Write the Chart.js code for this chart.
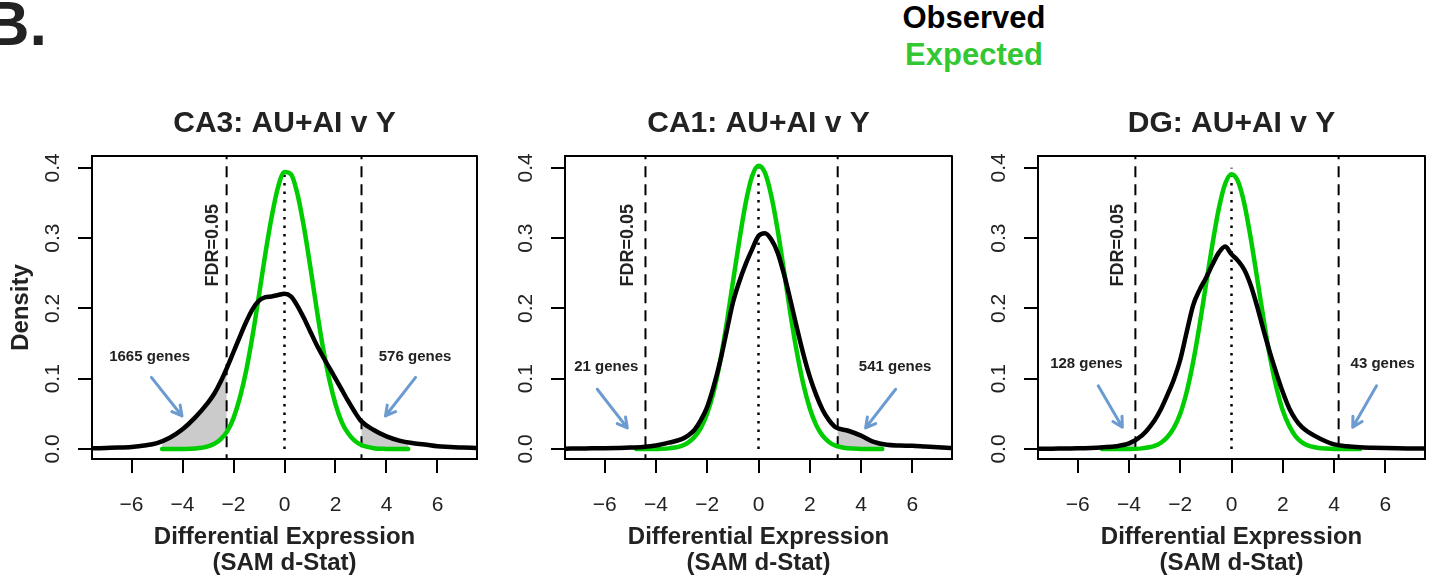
<!DOCTYPE html>
<html>
<head>
<meta charset="utf-8">
<script src="https://cdn.jsdelivr.net/npm/chart.js@4.4.0/dist/chart.umd.min.js"></script>
<style>
body{margin:0;background:#fff;width:1435px;height:581px;overflow:hidden;position:relative;font-family:'Liberation Sans',Arial,Helvetica,sans-serif;}
canvas{position:absolute;top:90px;}
.lab{position:absolute;font-weight:bold;white-space:nowrap;line-height:1;}
</style>
</head>
<body>
<div class="lab" style="left:-16px;top:-8px;font-size:63px;color:#222">B.</div>
<div class="lab" style="left:974px;top:2px;font-size:31px;color:#000;transform:translateX(-50%)">Observed</div>
<div class="lab" style="left:974px;top:39px;font-size:31px;color:#33c833;transform:translateX(-50%)">Expected</div>
<canvas id="c0" width="480" height="491" style="left:0px"></canvas>
<canvas id="c1" width="475" height="491" style="left:480px"></canvas>
<canvas id="c2" width="480" height="491" style="left:955px"></canvas>
<script>
// observed densities (black)
const obsX = [-7.5,-7,-6.5,-6,-5.5,-5,-4.5,-4,-3.5,
  -3,-2.75,-2.5,-2.25,-2,-1.75,-1.5,-1.25,-1,-0.75,-0.5,-0.25,0,0.25,0.5,0.75,1,1.25,1.5,1.75,2,2.25,2.5,2.75,3,
  3.5,4,4.5,5,5.5,6,6.5,7,7.5];
const obsCA3 = [0.001,0.0015,0.002,0.003,0.005,0.0085,0.016,0.028,0.045,
  0.066,0.079,0.096,0.116,0.138,0.160,0.181,0.199,0.211,0.216,0.217,0.219,0.221,0.217,0.204,0.187,0.168,0.149,0.132,0.116,0.100,0.084,0.068,0.053,0.040,
  0.027,0.018,0.012,0.0085,0.0065,0.004,0.003,0.002,0.0015];
const obsCA1 = [0.0005,0.0007,0.001,0.0012,0.0015,0.002,0.003,0.005,0.009,
  0.014,0.019,0.027,0.041,0.060,0.089,0.124,0.166,0.208,0.238,0.263,0.284,0.303,0.307,0.298,0.279,0.248,0.211,0.172,0.135,0.103,0.077,0.056,0.041,0.031,
  0.026,0.019,0.010,0.006,0.005,0.0045,0.0035,0.0025,0.0015];
const obsDG = [0.0003,0.0005,0.0008,0.001,0.0015,0.0025,0.004,0.008,0.019,
  0.041,0.057,0.077,0.099,0.127,0.166,0.204,0.226,0.243,0.262,0.279,0.288,0.277,0.268,0.255,0.233,0.203,0.169,0.137,0.108,0.081,0.058,0.042,0.031,0.024,
  0.014,0.0066,0.004,0.0025,0.0018,0.0013,0.001,0.0008,0.0006];

// expected (null) densities (green)
const expX = [-4.5,-4,-3.5,
  -3,-2.75,-2.5,-2.25,-2,-1.75,-1.5,-1.25,-1,-0.75,-0.5,-0.25,0,0.25,0.5,0.75,1,1.25,1.5,1.75,2,2.25,2.5,2.75,3,
  3.5,4,4.5];
const expCA3 = [0,0.0001,0.0007,
  0.0037,0.0074,0.014,0.025,0.044,0.073,0.112,0.162,0.219,0.278,0.331,0.373,0.394,0.391,0.364,0.318,0.262,0.202,0.146,0.100,0.064,0.038,0.022,0.012,0.006,
  0.0012,0.0002,0];
const expCA1 = [0,0.0001,0.0009,
  0.0044,0.009,0.017,0.030,0.051,0.081,0.124,0.177,0.237,0.296,0.350,0.388,0.403,0.393,0.360,0.311,0.252,0.191,0.137,0.092,0.058,0.034,0.019,0.010,0.0048,
  0.001,0.0002,0];
const expDG = [0,0.0001,0.0009,
  0.0044,0.0089,0.017,0.030,0.050,0.081,0.123,0.175,0.233,0.290,0.341,0.377,0.391,0.381,0.349,0.300,0.243,0.185,0.131,0.088,0.055,0.033,0.018,0.0095,0.0047,
  0.001,0.0002,0];
const expLo = [-4.8,-4.77,-5.05];
const expHi = [4.85,4.83,5.02];

const panelTitles = ['CA3: AU+AI v Y','CA1: AU+AI v Y','DG: AU+AI v Y'];
const fdrLo = [-2.27,-4.41,-3.75];
const fdrHi = [3.02,3.09,4.18];
const fdrLabel = 'FDR=0.05';
const fdrLabelAt = [[-2.82,0.29],[-5.08,0.29],[-4.41,0.29]];
const genesLo = ['1665 genes','21 genes','128 genes'];
const genesHi = ['576 genes','541 genes','43 genes'];
const genesLoAt = [[-5.29,0.131],[-5.94,0.117],[-5.66,0.121]];
const genesHiAt = [[5.12,0.131],[5.33,0.117],[5.9,0.121]];
// arrows: [x0,y0,x1,y1] tail -> head
const arrowLo = [[-5.22,0.102,-4.02,0.047],[-6.29,0.085,-5.12,0.030],[-5.2,0.090,-4.26,0.031]];
const arrowHi = [[5.14,0.102,3.96,0.047],[5.35,0.085,4.18,0.030],[5.66,0.090,4.73,0.031]];
const dotTop = [0.39,0.40,0.40];

const xTicks = [-6,-4,-2,0,2,4,6];
const xTickLabels = ['\u22126','\u22124','\u22122','0','2','4','6'];
const yTicks = [0,0.1,0.2,0.3,0.4];
const yTickLabels = ['0.0','0.1','0.2','0.3','0.4'];

const obsAll = [obsCA3,obsCA1,obsDG];
const expAll = [expCA3,expCA1,expDG];

const F = "'Liberation Sans', Arial, Helvetica, sans-serif";
const yAxisW = [92,85,83];
const padR = [3,3,10];
const GREEN = '#00cd00';

function trace(ctx, pts, reverse){
  const p = reverse ? pts.slice().reverse() : pts;
  p.forEach((pt,k)=>{
    if(k===0){ if(reverse) ctx.lineTo(pt.x,pt.y); else ctx.moveTo(pt.x,pt.y); return; }
    const q = p[k-1];
    if(reverse) ctx.bezierCurveTo(q.cp1x,q.cp1y,pt.cp2x,pt.cp2y,pt.x,pt.y);
    else ctx.bezierCurveTo(q.cp2x,q.cp2y,pt.cp1x,pt.cp1y,pt.x,pt.y);
  });
}

function arrow(ctx, x, y, a){
  const x0=x.getPixelForValue(a[0]), y0=y.getPixelForValue(a[1]);
  const x1=x.getPixelForValue(a[2]), y1=y.getPixelForValue(a[3]);
  const ang=Math.atan2(y1-y0,x1-x0), h=11;
  ctx.beginPath();
  ctx.moveTo(x0,y0); ctx.lineTo(x1,y1);
  ctx.moveTo(x1-h*Math.cos(ang-0.5),y1-h*Math.sin(ang-0.5));
  ctx.lineTo(x1,y1);
  ctx.lineTo(x1-h*Math.cos(ang+0.5),y1-h*Math.sin(ang+0.5));
  ctx.stroke();
}

const annotate = {
  id:'annotate',
  beforeDatasetsDraw(chart, args, opts){
    const i = opts.panel;
    const {ctx, chartArea:a, scales:{x,y}} = chart;
    const obs = chart.getDatasetMeta(0), exp = chart.getDatasetMeta(1);
    obs.dataset.updateControlPoints(a,'x');
    exp.dataset.updateControlPoints(a,'x');
    [[expLo[i],fdrLo[i]],[fdrHi[i],expHi[i]]].forEach(([lo,hi])=>{
      if(hi<=lo) return;
      const l=x.getPixelForValue(lo), r=x.getPixelForValue(hi);
      ctx.save();
      ctx.beginPath(); ctx.rect(l,a.top,r-l,a.bottom-a.top); ctx.clip();
      ctx.beginPath();
      trace(ctx,obs.data,false);
      trace(ctx,exp.data,true);
      ctx.closePath();
      ctx.fillStyle='#cbcbcb'; ctx.fill();
      ctx.strokeStyle='#6e6e6e'; ctx.lineWidth=1.5; ctx.stroke();
      ctx.restore();
    });
  },
  afterDatasetsDraw(chart, args, opts){
    const i = opts.panel;
    const {ctx, chartArea:a, scales:{x,y}} = chart;
    ctx.save();
    // FDR label, rotated
    ctx.save();
    ctx.translate(x.getPixelForValue(fdrLabelAt[i][0]), y.getPixelForValue(fdrLabelAt[i][1]));
    ctx.rotate(-Math.PI/2);
    ctx.font = 'bold 18px '+F; ctx.fillStyle='#222'; ctx.textAlign='center'; ctx.textBaseline='middle';
    ctx.fillText(fdrLabel,0,0);
    ctx.restore();
    // gene counts
    ctx.font = 'bold 15px '+F; ctx.fillStyle='#222'; ctx.textAlign='center'; ctx.textBaseline='middle';
    ctx.fillText(genesLo[i], x.getPixelForValue(genesLoAt[i][0]), y.getPixelForValue(genesLoAt[i][1]));
    ctx.fillText(genesHi[i], x.getPixelForValue(genesHiAt[i][0]), y.getPixelForValue(genesHiAt[i][1]));
    // arrows
    ctx.strokeStyle='#6b9bd0'; ctx.lineWidth=3; ctx.lineCap='round'; ctx.lineJoin='round';
    arrow(ctx,x,y,arrowLo[i]);
    arrow(ctx,x,y,arrowHi[i]);
    // box
    ctx.lineCap='butt'; ctx.strokeStyle='#000'; ctx.lineWidth=2;
    ctx.strokeRect(a.left,a.top,a.right-a.left,a.bottom-a.top);
    ctx.restore();
  }
};

function vline(xv, y0, y1, dash, width){
  return {data:[{x:xv,y:y0},{x:xv,y:y1}], borderColor:'#000', borderWidth:width, borderDash:dash,
    pointRadius:0, fill:false, order:3};
}

for(let i=0;i<3;i++){
  const obsData = obsX.map((v,j)=>({x:v,y:obsAll[i][j]}));
  const expData = [{x:expLo[i],y:0}].concat(expX.map((v,j)=>({x:v,y:expAll[i][j]})),[{x:expHi[i],y:0}]);
  new Chart(document.getElementById('c'+i), {
    type:'line',
    data:{datasets:[
      {label:'Observed', data:obsData, borderColor:'#000', borderWidth:4.5, pointRadius:0, fill:false,
        cubicInterpolationMode:'monotone', borderCapStyle:'round', borderJoinStyle:'round', order:0},
      {label:'Expected', data:expData, borderColor:GREEN, borderWidth:4.5, pointRadius:0, fill:false,
        cubicInterpolationMode:'monotone', borderCapStyle:'round', borderJoinStyle:'round', order:1},
      vline(fdrLo[i], -0.1, 0.5, [11,7], 2),
      vline(fdrHi[i], -0.1, 0.5, [11,7], 2),
      vline(0, 0, dotTop[i], [2.5,6], 2.5)
    ]},
    options:{
      responsive:false, animation:false, devicePixelRatio:1,
      layout:{padding:{left:0,right:padR[i],top:0,bottom:0}},
      plugins:{
        legend:{display:false}, tooltip:{enabled:false},
        title:{display:true, text:panelTitles[i], fullSize:false, color:'#222',
          font:{size:30,weight:'bold',family:F}, padding:{top:16,bottom:14}},
        annotate:{panel:i}
      },
      scales:{
        x:{type:'linear', min:-7.55, max:7.55,
          afterBuildTicks:s=>{ s.ticks = xTicks.map(v=>({value:v})); },
          afterFit:s=>{ s.height = 122; },
          grid:{drawOnChartArea:false, drawTicks:true, tickLength:14, color:'#000', lineWidth:2},
          border:{display:true, color:'#000', width:2},
          ticks:{autoSkip:false, maxRotation:0, color:'#222', padding:20, font:{size:21,family:F},
            callback:(v,k)=>xTickLabels[k]},
          title:{display:true, text:['Differential Expression','(SAM d-Stat)'], color:'#222',
            font:{size:24,weight:'bold',family:F,lineHeight:1.083}, padding:{top:0,bottom:5}}
        },
        y:{min:-0.0142, max:0.4168,
          afterBuildTicks:s=>{ s.ticks = yTicks.map(v=>({value:v})); },
          afterFit:s=>{ s.width = yAxisW[i]; },
          grid:{drawOnChartArea:false, drawTicks:true, tickLength:14, color:'#000', lineWidth:2},
          border:{display:true, color:'#000', width:2},
          ticks:{autoSkip:false, minRotation:90, maxRotation:90, crossAlign:'center', padding:10,
            color:'#222', font:{size:21,family:F}, callback:(v,k)=>yTickLabels[k]},
          title:{display:i===0, text:'Density', color:'#222',
            font:{size:24,weight:'bold',family:F}, padding:{top:7,bottom:0}}
        }
      }
    },
    plugins:[annotate]
  });
}
</script>
</body>
</html>
